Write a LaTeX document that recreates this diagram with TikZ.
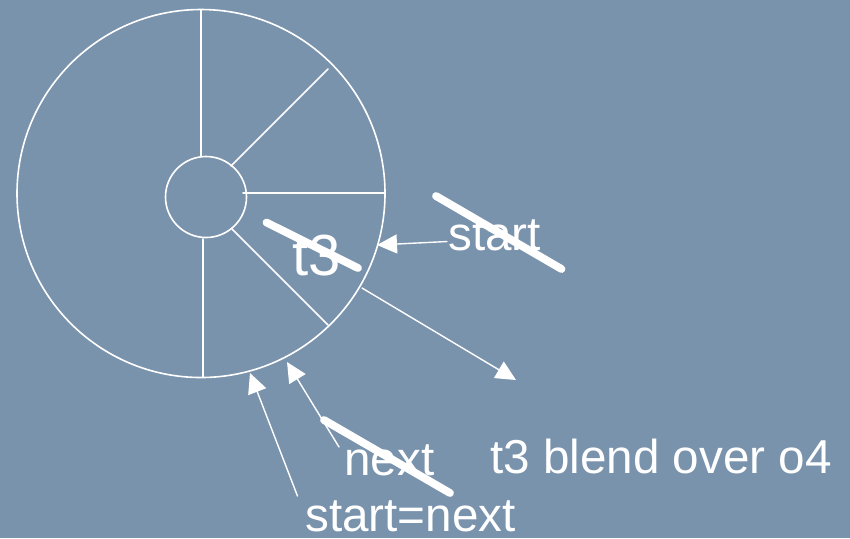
\documentclass[tikz,border=0pt]{standalone}
\usepackage{fontspec}
\setmainfont{Liberation Sans}
\usetikzlibrary{arrows.meta}
\definecolor{slate}{RGB}{122,147,173}
\begin{document}
\begin{tikzpicture}[
  x=0.5pt,
  y=-0.5pt,
  line cap=round,
  line join=round,
  wheel/.style={white, line width=0.8pt},
  pointer/.style={white, line width=0.7pt, -{Triangle[length=10pt,width=9.5pt]}},
  strikeline/.style={white, line width=3.9pt, line cap=round},
  word/.style={text=white, inner sep=0pt, anchor=base west,
    font=\fontsize{23.8}{28}\selectfont}
]
  \def\R{184}
  \def\r{40.5}

  \useasboundingbox[fill=slate] (0,0) rectangle (850,538);

  \coordinate (O) at (201,193.5);
  \coordinate (P) at (206,197);

  % Outer and inner ring
  \draw[wheel] (O) circle[radius=\R];
  \draw[wheel] (P) circle[radius=\r];

  % Spokes
  \draw[wheel] (201,156.5)--(201,10);
  \draw[wheel] (231,166)--(328,69);
  \draw[wheel] (243,193)--(385,193);
  \draw[wheel] (232,229)--(328,325);
  \draw[wheel] (203,239)--(203,377);

  % Labels
  \node[word, font=\fontsize{29}{34}\selectfont] (t3) at (292,275) {t3};
  \node[word] (start) at (448,250) {start};
  \node[word] (next) at (344,475) {next};
  \node[word] (startnext) at (305,531) {start=next};
  \node[word] (blend) at (490,473) {t3 blend over o4};

  % Arrow ends
  \coordinate (startTail) at (447,241.5);
  \coordinate (startTip) at (377,245);
  \coordinate (blendTail) at (362,288);
  \coordinate (blendTip) at (516,380);
  \coordinate (nextTail) at (339,447);
  \coordinate (nextTip) at (287,362);
  \coordinate (snTail) at (297.5,496);
  \coordinate (snTip) at (250,373);

  \draw[pointer] (startTail)--(startTip);
  \draw[pointer] (blendTail)--(blendTip);
  \draw[pointer] (nextTail)--(nextTip);
  \draw[pointer] (snTail)--(snTip);

  % Crossed out
  \draw[strikeline] (266.5,222.5)--(358,268);
  \draw[strikeline] (436,196)--(561.5,269);
  \draw[strikeline] (324,420)--(450,493);
\end{tikzpicture}
\end{document}
